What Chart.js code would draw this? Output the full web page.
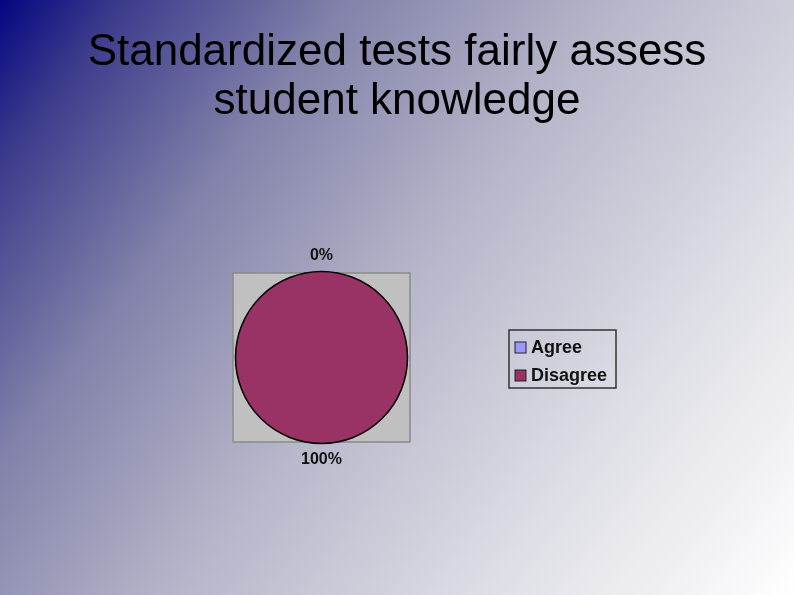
<!DOCTYPE html>
<html>
<head>
<meta charset="utf-8">
<script src="https://cdn.jsdelivr.net/npm/chart.js@4/dist/chart.umd.min.js"></script>
<style>
    html, body { margin: 0; padding: 0; }
    body { width: 794px; height: 595px; overflow: hidden; }
    #chart-wrap { position: relative; width: 794px; height: 595px; }
</style>
</head>
<body>
<div id="chart-wrap"><canvas id="pie-chart"></canvas></div>
<script>
const titleLines = ['Standardized tests fairly assess', 'student knowledge'];
const categories = ['Agree', 'Disagree'];
const values = [0, 100];
const percentLabels = ['0%', '100%'];
const sliceColors = ['#9999ff', '#993366'];

const slideBackground = {
    id: 'slideBackground',
    beforeDraw(chart) {
        const { ctx, width, height } = chart;
        const g = ctx.createLinearGradient(0, 0, width, height);
        g.addColorStop(0, '#050582');
        g.addColorStop(0.1, '#3c3c8c');
        g.addColorStop(0.28, '#8282aa');
        g.addColorStop(0.5, '#b6b6ca');
        g.addColorStop(0.75, '#dedee6');
        g.addColorStop(1, '#ffffff');
        ctx.save();
        ctx.fillStyle = g;
        ctx.fillRect(0, 0, width, height);

        ctx.fillStyle = '#000000';
        ctx.font = '44px "Liberation Sans", Arial, sans-serif';
        ctx.textAlign = 'center';
        ctx.textBaseline = 'alphabetic';
        titleLines.forEach((line, i) => ctx.fillText(line, 397, 65 + i * 49));
        ctx.restore();
    }
};

const plotArea = {
    id: 'plotArea',
    beforeDatasetsDraw(chart) {
        const { ctx, chartArea } = chart;
        ctx.save();
        ctx.fillStyle = '#c0c0c0';
        ctx.fillRect(chartArea.left, chartArea.top, chartArea.width, chartArea.height);
        ctx.strokeStyle = '#8a8a8a';
        ctx.lineWidth = 1.5;
        ctx.strokeRect(chartArea.left, chartArea.top, chartArea.width, chartArea.height);
        ctx.restore();
    }
};

// outline only the rim: a full 100% slice would otherwise get a radial seam
const pieRim = {
    id: 'pieRim',
    afterDatasetsDraw(chart) {
        const { ctx } = chart;
        const arc = chart.getDatasetMeta(0).data[0];
        if (!arc) return;
        const p = arc.getProps(['x', 'y', 'outerRadius'], true);
        ctx.save();
        ctx.strokeStyle = '#000000';
        ctx.lineWidth = 1.5;
        ctx.beginPath();
        ctx.arc(p.x, p.y, p.outerRadius, 0, Math.PI * 2);
        ctx.stroke();
        ctx.restore();
    }
};

const sliceLabels = {
    id: 'sliceLabels',
    afterDatasetsDraw(chart) {
        const { ctx } = chart;
        const arcs = chart.getDatasetMeta(0).data;
        ctx.save();
        ctx.fillStyle = '#111111';
        ctx.font = 'bold 16px "Liberation Sans", Arial, sans-serif';
        ctx.textAlign = 'center';
        ctx.textBaseline = 'middle';
        arcs.forEach((arc, i) => {
            const p = arc.getProps(['x', 'y', 'startAngle', 'endAngle', 'outerRadius'], true);
            const mid = (p.startAngle + p.endAngle) / 2;
            const r = p.outerRadius + 16;
            ctx.fillText(percentLabels[i], p.x + Math.cos(mid) * r, p.y + Math.sin(mid) * r);
        });
        ctx.restore();
    }
};

const boxLegend = {
    id: 'boxLegend',
    afterDraw(chart) {
        const { ctx } = chart;
        const x = 509, y = 330, w = 107, h = 58;
        ctx.save();
        ctx.strokeStyle = '#333333';
        ctx.lineWidth = 1.5;
        ctx.strokeRect(x, y, w, h);
        ctx.font = 'bold 18px "Liberation Sans", Arial, sans-serif';
        ctx.textBaseline = 'middle';
        categories.forEach((name, i) => {
            const cy = y + 17 + i * 28;
            ctx.fillStyle = sliceColors[i];
            ctx.fillRect(x + 6, cy - 5, 11, 11);
            ctx.strokeStyle = '#222222';
            ctx.lineWidth = 1;
            ctx.strokeRect(x + 6, cy - 5, 11, 11);
            ctx.fillStyle = '#111111';
            ctx.fillText(name, x + 22, cy + 1);
        });
        ctx.restore();
    }
};

new Chart(document.getElementById('pie-chart'), {
    type: 'pie',
    data: {
        labels: categories,
        datasets: [{
            data: values,
            backgroundColor: sliceColors,
            borderWidth: 0,
        }],
    },
    options: {
        responsive: true,
        maintainAspectRatio: false,
        animation: false,
        radius: 86,
        layout: { padding: { left: 233, right: 384, top: 273, bottom: 153 } },
        plugins: {
            legend: { display: false },
            tooltip: { enabled: false },
        },
    },
    plugins: [slideBackground, plotArea, pieRim, sliceLabels, boxLegend],
});
</script>
</body>
</html>
